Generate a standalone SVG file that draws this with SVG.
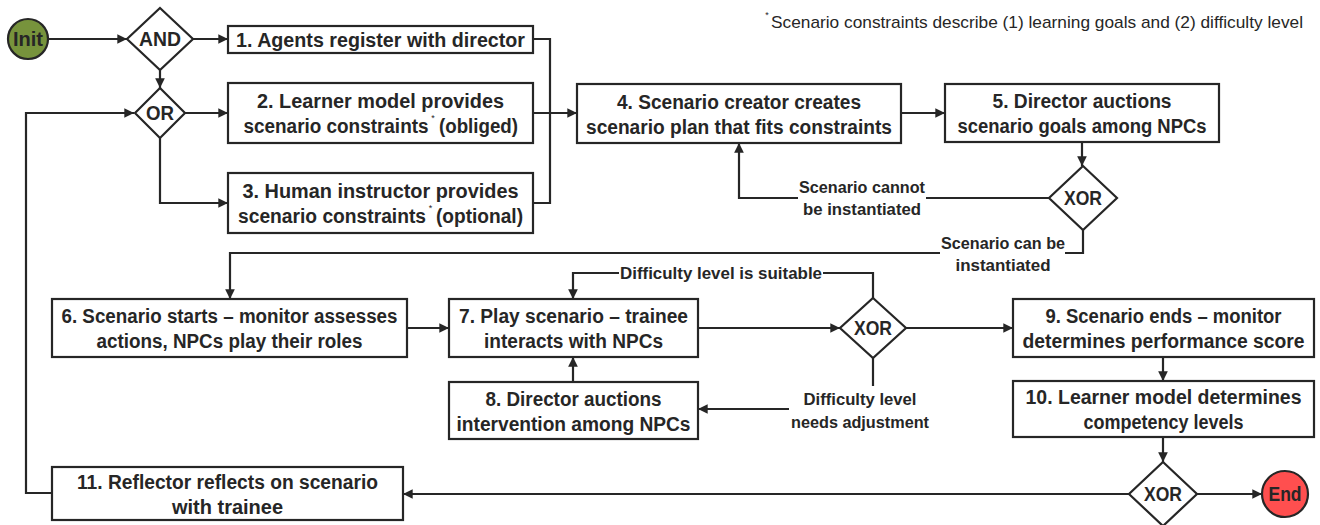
<svg xmlns="http://www.w3.org/2000/svg" width="1320" height="525" viewBox="0 0 1320 525">
<defs>
<style>
.box{fill:#fff;stroke:#262626;stroke-width:2.2}
.gw{fill:#fff;stroke:#262626;stroke-width:2.2}
.t{font-family:"Liberation Sans Narrow","Liberation Sans",Arial,sans-serif;font-weight:bold;font-size:20px;fill:#262626;text-anchor:middle}
.ts{font-family:"Liberation Sans Narrow","Liberation Sans",Arial,sans-serif;font-weight:bold;font-size:20px;fill:#262626}
.l{font-family:"Liberation Sans Narrow","Liberation Sans",Arial,sans-serif;font-weight:bold;font-size:17px;fill:#262626;text-anchor:middle}
.fn{font-family:"Liberation Sans Narrow","Liberation Sans",Arial,sans-serif;font-size:17px;fill:#262626}
.sup{font-family:"Liberation Sans",Arial,sans-serif;font-size:9px;fill:#262626;text-anchor:middle}
.c{fill:none;stroke:#262626;stroke-width:2.2}
.ca{fill:none;stroke:#262626;stroke-width:2.2;marker-end:url(#arr)}
</style>
<marker id="arr" viewBox="0 0 10 10" refX="10" refY="5" markerWidth="5" markerHeight="4.4" markerUnits="strokeWidth" orient="auto">
<path d="M0,0 L10,5 L0,10 z" fill="#262626"/>
</marker>
</defs>
<rect width="1320" height="525" fill="#fff"/>

<g id="connectors">
<path class="ca" d="M49,39 H127"/>
<path class="ca" d="M193,39 H228"/>
<path class="ca" d="M160,70 V88"/>
<path class="ca" d="M185,113 H228"/>
<path class="ca" d="M160,138 V203 H228"/>
<path class="c" d="M533,39 H550 V203 H533"/>
<path class="ca" d="M533,113 H577"/>
<path class="ca" d="M901,113 H945"/>
<path class="ca" d="M1082,142 V166"/>
<path class="ca" d="M1049,198 H926 M798,198 H739 V143"/>
<path class="ca" d="M1083,230 V253 H1065 M940,253 H230 V299"/>
<path class="ca" d="M407,328 H449"/>
<path class="ca" d="M698,328 H840"/>
<path class="ca" d="M873,298 V273 H823 M619,273 H573 V299"/>
<path class="c" d="M873,358 V386"/>
<path class="ca" d="M789,409 H698"/>
<path class="ca" d="M573,382 V357"/>
<path class="ca" d="M906,328 H1013"/>
<path class="ca" d="M1163,357 V381"/>
<path class="ca" d="M1163,437 V462"/>
<path class="ca" d="M1197,494 H1262"/>
<path class="ca" d="M1129,494 H403"/>
<path class="ca" d="M52,493 H26 V113 H134"/>
</g>

<g id="labels">
<text class="l" x="862" y="193" textLength="126" lengthAdjust="spacingAndGlyphs">Scenario cannot</text>
<text class="l" x="862" y="215" textLength="118" lengthAdjust="spacingAndGlyphs">be instantiated</text>
<text class="l" x="1003" y="249" textLength="124" lengthAdjust="spacingAndGlyphs">Scenario can be</text>
<text class="l" x="1003" y="271" textLength="95" lengthAdjust="spacingAndGlyphs">instantiated</text>
<text class="l" x="721" y="279" textLength="202" lengthAdjust="spacingAndGlyphs">Difficulty level is suitable</text>
<text class="l" x="860" y="405" textLength="113" lengthAdjust="spacingAndGlyphs">Difficulty level</text>
<text class="l" x="860" y="428" textLength="138" lengthAdjust="spacingAndGlyphs">needs adjustment</text>
</g>

<g id="footnote">
<text class="sup" x="767" y="18">*</text>
<text class="fn" x="771" y="28" textLength="532" lengthAdjust="spacingAndGlyphs">Scenario constraints describe (1) learning goals and (2) difficulty level</text>
</g>

<g id="init">
<circle cx="28" cy="39" r="20" fill="#77933C" stroke="#262626" stroke-width="2.2"/>
<text class="t" x="28" y="46" textLength="30" lengthAdjust="spacingAndGlyphs">Init</text>
</g>
<g id="and">
<polygon class="gw" points="160,8 193,39 160,70 127,39"/>
<text class="t" x="160" y="46" textLength="42" lengthAdjust="spacingAndGlyphs">AND</text>
</g>
<g id="or">
<polygon class="gw" points="160,88 185,113 160,138 135,113"/>
<text class="t" x="160" y="120" textLength="28" lengthAdjust="spacingAndGlyphs">OR</text>
</g>
<g id="n1">
<rect class="box" x="228" y="26" width="305" height="27"/>
<text class="t" x="380.5" y="46.5" textLength="289" lengthAdjust="spacingAndGlyphs">1. Agents register with director</text>
</g>
<g id="n2">
<rect class="box" x="228" y="83" width="305" height="60"/>
<text class="t" x="380.5" y="108" textLength="247" lengthAdjust="spacingAndGlyphs">2. Learner model provides</text>
<text class="ts" x="243.5" y="133" textLength="185" lengthAdjust="spacingAndGlyphs">scenario constraints</text>
<text class="sup" x="433" y="121">*</text>
<text class="ts" x="439" y="133" textLength="79" lengthAdjust="spacingAndGlyphs">(obliged)</text>
</g>
<g id="n3">
<rect class="box" x="228" y="173" width="305" height="60"/>
<text class="t" x="380.5" y="198" textLength="276" lengthAdjust="spacingAndGlyphs">3. Human instructor provides</text>
<text class="ts" x="238" y="223" textLength="188" lengthAdjust="spacingAndGlyphs">scenario constraints</text>
<text class="sup" x="430.5" y="211">*</text>
<text class="ts" x="436" y="223" textLength="87" lengthAdjust="spacingAndGlyphs">(optional)</text>
</g>
<g id="n4">
<rect class="box" x="577" y="84" width="324" height="59"/>
<text class="t" x="739" y="108.5" textLength="244" lengthAdjust="spacingAndGlyphs">4. Scenario creator creates</text>
<text class="t" x="739" y="133.5" textLength="306" lengthAdjust="spacingAndGlyphs">scenario plan that fits constraints</text>
</g>
<g id="n5">
<rect class="box" x="945" y="84" width="274" height="58"/>
<text class="t" x="1082" y="108" textLength="179" lengthAdjust="spacingAndGlyphs">5. Director auctions</text>
<text class="t" x="1082" y="133" textLength="249" lengthAdjust="spacingAndGlyphs">scenario goals among NPCs</text>
</g>
<g id="xor1">
<polygon class="gw" points="1083,166 1117,198 1083,230 1049,198"/>
<text class="t" x="1083" y="205" textLength="38" lengthAdjust="spacingAndGlyphs">XOR</text>
</g>
<g id="n6">
<rect class="box" x="52" y="299" width="355" height="58"/>
<text class="t" x="229.5" y="323" textLength="336" lengthAdjust="spacingAndGlyphs">6. Scenario starts – monitor assesses</text>
<text class="t" x="229.5" y="348" textLength="266" lengthAdjust="spacingAndGlyphs">actions, NPCs play their roles</text>
</g>
<g id="n7">
<rect class="box" x="449" y="299" width="249" height="58"/>
<text class="t" x="573.5" y="323" textLength="229" lengthAdjust="spacingAndGlyphs">7. Play scenario – trainee</text>
<text class="t" x="573.5" y="348" textLength="179" lengthAdjust="spacingAndGlyphs">interacts with NPCs</text>
</g>
<g id="xor2">
<polygon class="gw" points="873,298 906,328 873,358 840,328"/>
<text class="t" x="873" y="335" textLength="38" lengthAdjust="spacingAndGlyphs">XOR</text>
</g>
<g id="n8">
<rect class="box" x="449" y="382" width="249" height="57"/>
<text class="t" x="573.5" y="405.5" textLength="176" lengthAdjust="spacingAndGlyphs">8. Director auctions</text>
<text class="t" x="573.5" y="430.5" textLength="234" lengthAdjust="spacingAndGlyphs">intervention among NPCs</text>
</g>
<g id="n9">
<rect class="box" x="1013" y="299" width="301" height="58"/>
<text class="t" x="1163.5" y="323" textLength="236" lengthAdjust="spacingAndGlyphs">9. Scenario ends – monitor</text>
<text class="t" x="1163.5" y="348" textLength="282" lengthAdjust="spacingAndGlyphs">determines performance score</text>
</g>
<g id="n10">
<rect class="box" x="1013" y="381" width="301" height="56"/>
<text class="t" x="1163.5" y="404" textLength="276" lengthAdjust="spacingAndGlyphs">10. Learner model determines</text>
<text class="t" x="1163.5" y="429" textLength="160" lengthAdjust="spacingAndGlyphs">competency levels</text>
</g>
<g id="xor3">
<polygon class="gw" points="1163,462 1197,494 1163,526 1129,494"/>
<text class="t" x="1163" y="501" textLength="38" lengthAdjust="spacingAndGlyphs">XOR</text>
</g>
<g id="end">
<circle cx="1285" cy="494" r="23" fill="#FF4F4F" stroke="#262626" stroke-width="2.2"/>
<text class="t" x="1285" y="501" textLength="33" lengthAdjust="spacingAndGlyphs">End</text>
</g>
<g id="n11">
<rect class="box" x="52" y="467" width="351" height="53"/>
<text class="t" x="227.5" y="488.5" textLength="301" lengthAdjust="spacingAndGlyphs">11. Reflector reflects on scenario</text>
<text class="t" x="227.5" y="513.5" textLength="111" lengthAdjust="spacingAndGlyphs">with trainee</text>
</g>
</svg>
